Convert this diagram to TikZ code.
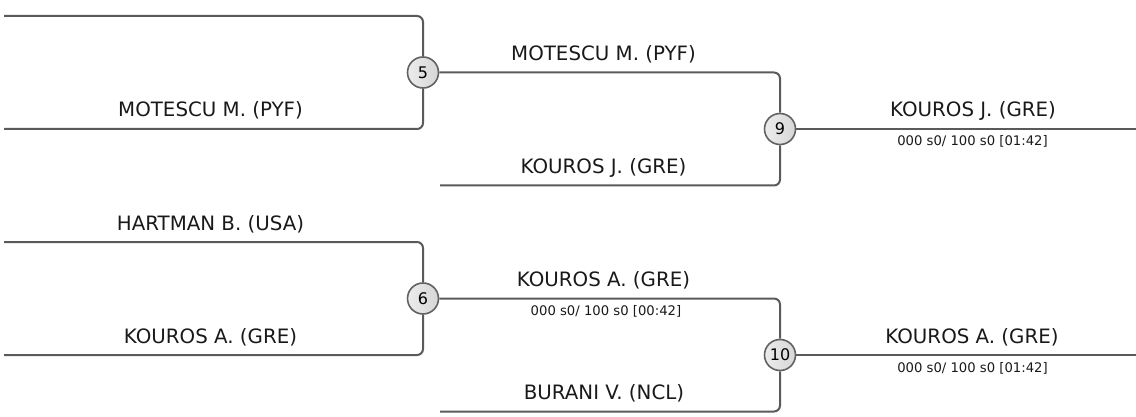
\documentclass[tikz,border=0pt]{standalone}
\usepackage{fontspec}
\setmainfont{DejaVu Sans}
\definecolor{bracketline}{HTML}{5A5A5A}
\definecolor{matchedge}{HTML}{626262}
\begin{document}
\begin{tikzpicture}[x=1pt,y=-1pt,
    bline/.style={bracketline,line width=2pt,rounded corners=6pt},
    matchnode/.style={circle,draw=matchedge,line width=1.6pt,minimum size=31pt,inner sep=0pt,
      left color=gray!15,middle color=gray!3,right color=gray!32,font=\fontsize{16}{18}\selectfont},
    player/.style={anchor=base,text=black!90,font=\fontsize{19.8}{22}\selectfont},
    result/.style={anchor=base,text=black!90,font=\fontsize{13.2}{15}\selectfont}]
  \useasboundingbox (0,0) rectangle (1136,417);
  % matches
  \node[matchnode] (m5) at (423,72.5) {5};
  \node[matchnode] (m6) at (423,298.5) {6};
  \node[matchnode] (m9) at (780,129) {9};
  \node[matchnode] (m10) at (780,355) {10};
  % free ends
  \coordinate (r1a) at (4,16);
  \coordinate (r1b) at (4,129);
  \coordinate (r1c) at (4,242);
  \coordinate (r1d) at (4,355);
  \coordinate (r2b) at (440,185.5);
  \coordinate (r2d) at (440,411.5);
  \coordinate (f9) at (1136,129);
  \coordinate (f10) at (1136,355);
  % connectors
  \draw[bline] (r1a) -| (m5);
  \draw[bline] (r1b) -| (m5);
  \draw[bline] (r1c) -| (m6);
  \draw[bline] (r1d) -| (m6);
  \draw[bline] (m5) -| (m9);
  \draw[bline] (r2b) -| (m9);
  \draw[bline] (m6) -| (m10);
  \draw[bline] (r2d) -| (m10);
  \draw[bline] (m9) -- (f9);
  \draw[bline] (m10) -- (f10);
  % players
  \node[player] (p1b) at (210.5,117) {MOTESCU M. (PYF)};
  \node[player] (p1c) at (210.5,230) {HARTMAN B. (USA)};
  \node[player] (p1d) at (210.5,343) {KOUROS A. (GRE)};
  \node[player] (p2a) at (603.5,60.5) {MOTESCU M. (PYF)};
  \node[player] (p2b) at (603.5,173.5) {KOUROS J. (GRE)};
  \node[player] (p2c) at (603.5,286.5) {KOUROS A. (GRE)};
  \node[player] (p2d) at (604,399.5) {BURANI V. (NCL)};
  \node[player] (p3a) at (973,117) {KOUROS J. (GRE)};
  \node[player] (p3b) at (972,343) {KOUROS A. (GRE)};
  % results
  \node[result] (s6) at (606,315.5) {000 s0/ 100 s0 [00:42]};
  \node[result] (s9) at (972.5,146) {000 s0/ 100 s0 [01:42]};
  \node[result] (s10) at (972.5,372) {000 s0/ 100 s0 [01:42]};
\end{tikzpicture}
\end{document}
